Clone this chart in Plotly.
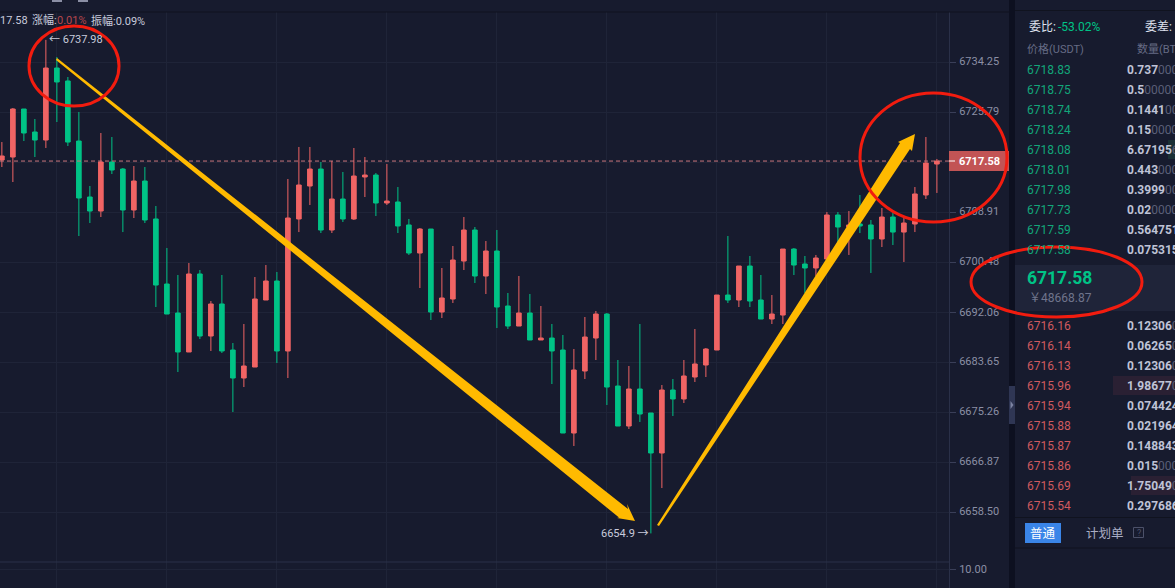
import plotly.graph_objects as go
from plotly.subplots import make_subplots

# 1 minute candles
opens = [6717.76, 6718.26, 6726.34, 6722.47, 6721.12, 6733.24, 6731.06, 6720.95, 6711.53, 6709.17,
         6717.42, 6716.24, 6709.34, 6714.22, 6707.83, 6696.88, 6692.00, 6685.44, 6698.57, 6688.13,
         6693.52, 6685.77, 6681.06, 6682.91, 6694.19, 6697.39, 6685.61, 6707.83, 6713.38, 6716.24,
         6705.97, 6711.19, 6707.83, 6714.90, 6715.23, 6710.52, 6710.69, 6706.82, 6702.10, 6706.14,
         6692.17, 6694.36, 6700.75, 6705.97, 6698.23, 6702.44, 6693.18, 6689.81, 6692.00, 6687.46,
         6687.79, 6685.77, 6671.80, 6682.24, 6687.79, 6691.83, 6679.71, 6672.98, 6679.21, 6675.17,
         6668.44, 6679.04, 6677.53, 6681.23, 6683.25, 6685.77, 6695.03, 6694.19, 6699.91, 6694.19,
         6690.99, 6691.66, 6702.77, 6700.25, 6699.58, 6701.09, 6708.50, 6706.48, 6706.98, 6706.82,
         6704.46, 6708.16, 6705.63, 6706.98, 6711.87, 6717.08]
highs = [6720.78, 6726.51, 6726.34, 6724.66, 6737.98, 6735.09, 6731.73, 6725.84, 6713.38, 6722.30,
         6721.63, 6716.41, 6716.75, 6716.58, 6710.01, 6702.94, 6698.40, 6700.42, 6699.24, 6694.02,
         6698.40, 6686.95, 6690.15, 6698.06, 6700.08, 6698.90, 6714.56, 6719.95, 6719.95, 6717.42,
         6717.59, 6715.74, 6719.78, 6718.26, 6715.57, 6717.08, 6713.21, 6707.83, 6706.31, 6706.14,
         6699.58, 6703.28, 6708.16, 6706.48, 6704.12, 6705.97, 6695.37, 6698.23, 6695.20, 6693.18,
         6690.15, 6688.30, 6685.94, 6691.33, 6692.34, 6692.00, 6684.09, 6683.08, 6690.15, 6675.17,
         6679.88, 6680.89, 6684.09, 6689.31, 6686.11, 6695.03, 6704.96, 6699.91, 6701.60, 6698.40,
         6695.03, 6702.77, 6702.94, 6701.60, 6701.77, 6709.00, 6709.00, 6709.17, 6711.87, 6707.66,
         6709.68, 6708.83, 6707.99, 6713.21, 6721.63, 6717.93]
lows = [6716.58, 6714.05, 6720.95, 6718.26, 6719.78, 6724.15, 6720.11, 6704.96, 6707.15, 6708.16,
        6715.40, 6705.63, 6707.99, 6707.15, 6693.01, 6691.83, 6682.07, 6685.44, 6687.62, 6685.61,
        6685.27, 6675.34, 6679.54, 6682.91, 6694.19, 6683.59, 6681.06, 6705.63, 6710.18, 6705.47,
        6705.47, 6707.32, 6707.66, 6711.53, 6708.33, 6710.18, 6705.47, 6701.77, 6696.21, 6690.82,
        6691.16, 6693.69, 6699.24, 6697.05, 6695.20, 6689.48, 6689.31, 6689.81, 6687.46, 6687.46,
        6680.05, 6671.80, 6669.62, 6680.89, 6684.09, 6676.52, 6672.98, 6672.48, 6673.66, 6654.90,
        6662.54, 6674.67, 6676.85, 6680.39, 6681.23, 6685.77, 6693.69, 6693.01, 6693.01, 6690.99,
        6690.15, 6690.15, 6698.40, 6695.37, 6698.23, 6701.09, 6703.95, 6701.77, 6705.47, 6698.74,
        6703.11, 6703.45, 6700.59, 6705.63, 6711.19, 6712.21]
closes = [6718.43, 6726.34, 6722.30, 6721.12, 6733.24, 6730.89, 6720.78, 6711.36, 6709.17, 6717.42,
          6716.07, 6709.34, 6714.22, 6707.66, 6696.71, 6691.83, 6685.44, 6698.57, 6688.13, 6693.52,
          6685.61, 6681.06, 6683.08, 6694.36, 6697.39, 6685.61, 6707.99, 6713.55, 6716.24, 6705.97,
          6711.19, 6707.83, 6715.06, 6715.23, 6710.52, 6710.85, 6706.65, 6702.10, 6706.14, 6692.17,
          6694.53, 6700.92, 6705.97, 6698.23, 6702.44, 6693.01, 6689.81, 6692.00, 6687.46, 6687.79,
          6685.61, 6671.80, 6682.41, 6687.96, 6691.83, 6679.54, 6672.98, 6679.21, 6675.00, 6668.44,
          6679.04, 6677.53, 6681.40, 6683.42, 6685.94, 6695.03, 6694.19, 6699.91, 6694.02, 6690.99,
          6691.83, 6702.77, 6700.08, 6699.58, 6701.26, 6708.50, 6706.48, 6706.82, 6706.65, 6704.46,
          6708.16, 6705.63, 6707.15, 6712.04, 6717.25, 6717.58]

price_ticks = [6734.25, 6725.79, 6717.35, 6708.91, 6700.48, 6692.06, 6683.65, 6675.26, 6666.87, 6658.50]
price_labels = ["6734.25", "6725.79", "", "6708.91", "6700.48", "6692.06", "6683.65", "6675.26", "6666.87", "6658.50"]
last_price = 6717.58

ask_prices = ["6718.83", "6718.75", "6718.74", "6718.24", "6718.08", "6718.01", "6717.98", "6717.73", "6717.59", "6717.58"]
ask_sizes = ["0.737", "0.5", "0.1441", "0.15", "6.67195", "0.443", "0.3999", "0.02", "0.564751", "0.075315"]
ask_zeros = ["000", "00000", "00", "0000", "6", "000", "00", "0000", "", ""]
bid_prices = ["6716.16", "6716.14", "6716.13", "6715.96", "6715.94", "6715.88", "6715.87", "6715.86", "6715.69", "6715.54"]
bid_sizes = ["0.12306", "0.06265", "0.12306", "1.98677", "0.074424", "0.021964", "0.148843", "0.015", "1.75049", "0.297686"]
bid_zeros = ["0", "0", "0", "0", "", "", "", "000", "0", ""]

BG = "#171b2e"
GRID = "#1f2438"
RED = "#f06464"
GREEN = "#00c386"
YELLOW = "#ffba00"
CIRCLE = "#f21c0f"
W, H = 1175, 588
FONT = "Roboto, 'Noto Sans CJK SC', sans-serif"


def px(x, y):
    return f"{x / W:.5f},{1 - y / H:.5f}"


def polygon(points, color):
    path = "M " + " L ".join(px(x, y) for x, y in points) + " Z"
    return dict(type="path", path=path, xref="paper", yref="paper", fillcolor=color, line_width=0, layer="above")


def box(x0, y0, x1, y1, color, layer="above", line=None):
    return dict(type="rect", xref="paper", yref="paper", x0=x0 / W, x1=x1 / W, y0=1 - y0 / H, y1=1 - y1 / H,
                fillcolor=color, layer=layer, line=dict(color=line or color, width=1 if line else 0))


def ring(x0, y0, x1, y1):
    return dict(type="circle", xref="paper", yref="paper", x0=x0 / W, x1=x1 / W, y0=1 - y0 / H, y1=1 - y1 / H,
                fillcolor="rgba(0,0,0,0)", layer="above", line=dict(color=CIRCLE, width=3))


def label(x, y, text, color="#c8cbdc", size=12, anchor="left"):
    return dict(xref="paper", yref="paper", x=x / W, y=1 - y / H, text=text, showarrow=False, xanchor=anchor,
                yanchor="middle", borderpad=0, borderwidth=0, font=dict(family=FONT, size=size, color=color))


fig = make_subplots(rows=2, cols=1)

fig.add_trace(go.Candlestick(x=list(range(len(opens))), open=opens, high=highs, low=lows, close=closes,
                             increasing=dict(line=dict(color=RED, width=1), fillcolor=RED),
                             decreasing=dict(line=dict(color=GREEN, width=1), fillcolor=GREEN),
                             whiskerwidth=0, hoverinfo="skip", showlegend=False), row=1, col=1)
# nothing to draw in the lower pane, the empty trace just keeps its axes
fig.add_trace(go.Scatter(x=[None], y=[None], showlegend=False, hoverinfo="skip"), row=2, col=1)

x_range = [-0.17, 86.1]
x_ticks = list(range(5, 86, 10))
fig.update_xaxes(range=x_range, domain=[0, 949 / W], tickvals=x_ticks, showticklabels=False, ticks="",
                 showgrid=True, gridcolor=GRID, gridwidth=1, zeroline=False, showline=False)
fig.update_layout(xaxis_rangeslider_visible=False)
fig.update_yaxes(row=1, col=1, side="right", range=[6650.09, 6742.67], domain=[1 - 562 / H, 1 - 12 / H],
                 tickvals=price_ticks, ticktext=price_labels, ticks="outside", ticklen=6, tickcolor="#3a3f58",
                 ticklabelstandoff=1, ticklabelshift=-1, tickfont=dict(family=FONT, size=11, color="#8b8fa5"),
                 showgrid=True, gridcolor=GRID, gridwidth=1, zeroline=False, showline=True, linecolor="#2a3048")
# lower pane, only the scale shows
fig.update_yaxes(row=2, col=1, side="right", range=[0, 14.44], domain=[0, 1 - 562 / H],
                 tickvals=[10], ticktext=["10.00"], ticks="outside", ticklen=6, tickcolor="#3a3f58",
                 ticklabelstandoff=1, ticklabelshift=-1, tickfont=dict(family=FONT, size=11, color="#8b8fa5"),
                 showgrid=True, gridcolor=GRID, gridwidth=1, zeroline=False, showline=True, linecolor="#2a3048")

shapes = [
    # panel furniture
    box(0, 0, 1175, 12, BG, "below"),
    box(0, 11.5, 1009, 12.5, "#10131f"),
    box(0, 561.5, 949, 562.5, "#2a3048"),
    box(52, 0, 62, 2, "#8b8fa5"),
    box(78, 0, 88, 2, "#8b8fa5"),
    box(1009, 0, 1015, 588, "#0d1020"),
    box(1015, 10, 1175, 11, "#10131f"),
    box(1015, 265, 1175, 311, "#1f2439"),
    box(1168, 140, 1175, 159, "#1a3035"),
    box(1113, 376, 1175, 395, "#2a2033"),
    box(1131, 476, 1175, 495, "#2a2033"),
    box(1015, 517, 1175, 518, "#10131f"),
    box(1015, 547.5, 1175, 548.5, "#10131f"),
    box(1025, 523, 1061, 543, "#3a85e8"),
    box(1133.5, 527.5, 1143.5, 537.5, "rgba(0,0,0,0)", line="#4c5169"),
    box(1009, 386, 1015, 424, "#2f3654"),
    polygon([(1010.5, 401), (1013.5, 405), (1010.5, 409)], "#7d84a3"),
    # last price line and tag
    dict(type="line", xref="x", yref="y", x0=x_range[0], x1=x_range[1], y0=last_price, y1=last_price,
         line=dict(color="#c9767c", width=1, dash="4px,3px"), layer="above"),
    box(949, 151, 1009, 171, "#c25455"),
    box(949, 160.5, 955, 161.5, "#ffffff"),
    # hand drawn arrows
    polygon([(57, 58), (628, 509), (627, 504), (635, 521), (617, 518), (619, 517.5), (56, 60)], YELLOW),
    polygon([(657, 525), (900, 143), (898, 142), (915, 134), (912, 151), (910, 149), (659, 526)], YELLOW),
    # hand drawn circles
    ring(29, 26, 119, 106),
    ring(860, 93, 1007, 222),
    ring(971, 247, 1142, 317),
]

notes = [
    label(0, 21, "17.58", "#c8cbdc", 11),
    label(32, 21, "涨幅:", "#c8cbdc", 11),
    label(57, 21, "0.01%", "#b8474d", 11),
    label(91, 21, "振幅:0.09%", "#c8cbdc", 11),
    label(49, 39, "← 6737.98", "#c8cbdc", 11),
    label(649, 533, "6654.9 →", "#c8cbdc", 11, "right"),
    label(959, 161, "<b>6717.58</b>", "#ffffff", 11),
    label(1029, 27, "委比:", "#dfe2ee", 12),
    label(1058, 27, "-53.02%", GREEN, 12),
    label(1145, 27, "委差:", "#dfe2ee", 12),
    label(1027, 49, "价格(USDT)", "#666b85", 11),
    label(1137, 49, "数量(BTC)", "#666b85", 11),
    label(1027, 278, "<b>6717.58</b>", GREEN, 17.5),
    label(1029, 298, "￥48668.87", "#6f748c", 12),
    label(1043, 533, "普通", "#ffffff", 12.5, "center"),
    label(1086, 533, "计划单", "#a9adc4", 12.5),
    label(1138.5, 532.5, "?", "#4c5169", 9, "center"),
]

for i in range(10):
    row_y = 70 + 20 * i
    notes.append(label(1027, row_y, ask_prices[i], "#12a67a", 12))
    notes.append(label(1127, row_y, f"<b>{ask_sizes[i]}</b><span style='color:#5a5f78'>{ask_zeros[i]}</span>", "#bfc3d6", 12))
    row_y = 325.5 + 20 * i
    notes.append(label(1027, row_y, bid_prices[i], "#cf5a5f", 12))
    notes.append(label(1127, row_y, f"<b>{bid_sizes[i]}</b><span style='color:#5a5f78'>{bid_zeros[i]}</span>", "#bfc3d6", 12))

fig.update_layout(width=W, height=H, margin=dict(l=0, r=0, t=0, b=0), autosize=False,
                  paper_bgcolor=BG, plot_bgcolor=BG, boxgap=0.4, showlegend=False,
                  shapes=shapes, annotations=notes, hovermode=False)

fig.write_html("out.html", config={"displayModeBar": False},
               post_script=f"document.body.style.margin='0';document.body.style.background='{BG}';document.body.style.overflow='hidden';")
